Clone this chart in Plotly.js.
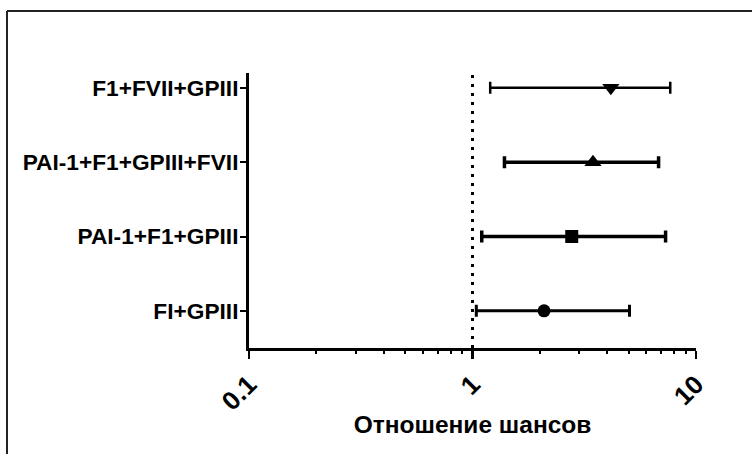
<!DOCTYPE html>
<html>
<head>
<meta charset="utf-8">
<script src="https://cdn.plot.ly/plotly-3.0.1.min.js"></script>
<style>html,body{margin:0;padding:0;background:#fff;}#chart{width:752px;height:454px;}</style>
</head>
<body>
<div id="chart"></div>
<script>
// Data (odds ratios with 95% CI), bottom row first
const categories = ["FI+GPIII", "PAI-1+F1+GPIII", "PAI-1+F1+GPIII+FVII", "F1+FVII+GPIII"];
const oddsRatio = [2.09, 2.78, 3.46, 4.16];
const ciLow     = [1.04, 1.10, 1.39, 1.20];
const ciHigh    = [5.04, 7.31, 6.80, 7.67];
const markerSymbols = ["circle", "square", "triangle-up", "triangle-down"];
const markerSizes = [13, 13, 15, 15];
const barWidths = [3, 3.5, 3.5, 2.5];
const xTickVals = [0.1, 1, 10];
const xTickText = ["0.1", "1", "10"];
const xMinorTicks = [0.2, 0.3, 0.4, 0.5, 0.6, 0.7, 0.8, 0.9, 2, 3, 4, 5, 6, 7, 8, 9];
const refValue = 1;
const xTitle = "Отношение шансов";

const FONT = "Liberation Sans, Arial, Helvetica, sans-serif";
const traces = categories.map((c, i) => ({
  type: "scatter",
  mode: "markers",
  x: [oddsRatio[i]],
  y: [i],
  marker: {symbol: markerSymbols[i], size: markerSizes[i], color: "#000"},
  error_x: {
    type: "data", symmetric: false,
    array: [ciHigh[i] - oddsRatio[i]],
    arrayminus: [oddsRatio[i] - ciLow[i]],
    color: "#000", thickness: barWidths[i], width: 6
  },
  showlegend: false,
  hoverinfo: "skip"
}));
// invisible carrier trace for the minor-tick axis
traces.push({
  type: "scatter", mode: "markers", x: oddsRatio, y: categories.map((c, i) => i),
  xaxis: "x2", marker: {opacity: 0}, showlegend: false, hoverinfo: "skip"
});

const layout = {
  width: 752, height: 454,
  margin: {l: 249, r: 56, t: 73, b: 106},
  paper_bgcolor: "#fff", plot_bgcolor: "#fff",
  font: {family: FONT, color: "#000"},
  xaxis: {
    type: "log", range: [-1, 1],
    tickmode: "array", tickvals: xTickVals, ticktext: xTickText,
    tickangle: -45,
    ticks: "outside", ticklen: 8, tickwidth: 2.5, tickcolor: "#000",
    tickfont: {family: FONT, size: 26, weight: 700, color: "#000"},
    showline: true, linewidth: 3, linecolor: "#000",
    showgrid: false, zeroline: false,
    title: {text: xTitle, font: {family: FONT, size: 24.5, weight: 700, color: "#000"}, standoff: 1}
  },
  xaxis2: {
    type: "log", range: [-1, 1], overlaying: "x", anchor: "y", side: "bottom",
    tickmode: "array", tickvals: xMinorTicks, showticklabels: false,
    ticks: "outside", ticklen: 5, tickwidth: 2, tickcolor: "#000",
    showline: false, showgrid: false, zeroline: false
  },
  yaxis: {
    range: [-0.5, 3.2],
    tickvals: categories.map((c, i) => i), ticktext: categories,
    ticks: "outside", ticklen: 6, tickwidth: 2, tickcolor: "#000",
    ticklabelstandoff: -3,
    tickfont: {family: FONT, size: 22.7, weight: 700, color: "#000"},
    showline: true, linewidth: 3, linecolor: "#000",
    showgrid: false, zeroline: false
  },
  shapes: [
    {type: "line", xref: "x", yref: "paper", x0: refValue, x1: refValue, y0: 0, y1: 1,
     line: {color: "#000", width: 3, dash: "3px,6px"}, layer: "below"},
    {type: "line", xref: "paper", yref: "paper", x0: -0.5414, x1: 1.2, y0: 1.2255, y1: 1.2255,
     line: {color: "#222", width: 2}},
    {type: "line", xref: "paper", yref: "paper", x0: -0.5414, x1: -0.5414, y0: 1.2255, y1: -0.5,
     line: {color: "#222", width: 2}}
  ]
};

Plotly.newPlot("chart", traces, layout, {staticPlot: true, displayModeBar: false});
</script>
</body>
</html>
